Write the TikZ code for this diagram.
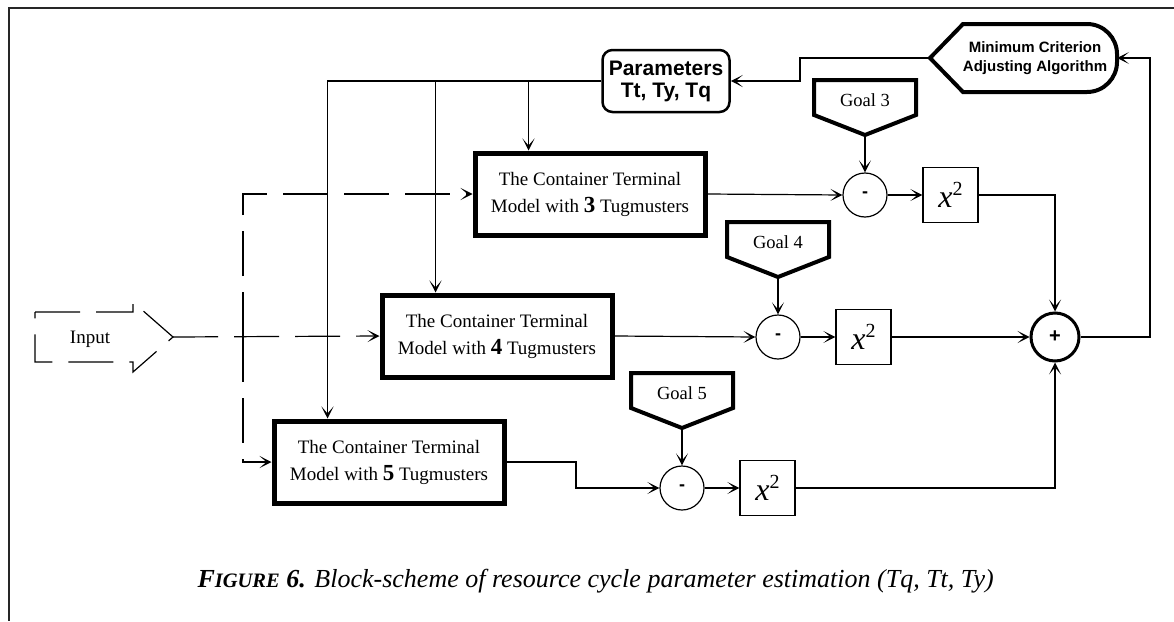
\documentclass[tikz,border=0pt]{standalone}
\usepackage{fontspec}
\setmainfont{Liberation Serif}
\setsansfont{Liberation Sans}
\usetikzlibrary{arrows.meta}
\begin{document}
\begin{tikzpicture}[x=1pt,y=-1pt,
  >={Stealth[length=12pt,width=12pt,inset=7pt]},
  conn/.style={line width=1.2pt},
  dconn/.style={line width=1.2pt, dash pattern=on 45pt off 16pt},
  model/.style={draw, line width=5pt, minimum width=230pt, minimum height=82pt,
    align=center, inner sep=0pt, font=\fontsize{19}{27}\selectfont},
  goalshape/.style={line width=4pt, line join=miter},
  goaltext/.style={font=\fontsize{18.5}{20}\selectfont},
  diff/.style={draw, circle, line width=1.2pt, minimum size=44pt, inner sep=0pt,
    font=\sffamily\bfseries\fontsize{18}{18}\selectfont},
  summ/.style={draw, circle, line width=3pt, minimum size=48pt, inner sep=0pt,
    font=\sffamily\bfseries\fontsize{20}{20}\selectfont},
  sqbox/.style={draw, line width=1.2pt, minimum size=55pt, inner sep=0pt,
    font=\fontsize{32}{32}\selectfont},
  parbox/.style={draw, line width=2.5pt, rounded corners=10pt, minimum width=127pt,
    minimum height=62pt, align=center, inner sep=0pt,
    font=\sffamily\bfseries\fontsize{21}{22}\selectfont},
  crittext/.style={align=center, font=\sffamily\bfseries\fontsize{15}{19}\selectfont}
]
\newcommand{\num}[1]{{\bfseries\fontsize{23}{23}\selectfont #1}}
\newcommand{\sq}{{\itshape x}\raisebox{12pt}{\fontsize{20}{20}\selectfont 2}}

\useasboundingbox (0,0) rectangle (1174,621);
\fill[white] (0,0) rectangle (1174,621);

% page frame
\draw[line width=2pt, black!85] (1174,8) -- (9,8) -- (9,621);

% model blocks
\node[model] (b1) at (590,194) {The Container Terminal\\Model with \num{3} Tugmusters};
\node[model] (b2) at (497,336) {The Container Terminal\\Model with \num{4} Tugmusters};
\node[model] (b3) at (389,462) {The Container Terminal\\Model with \num{5} Tugmusters};

% parameters and adjusting algorithm
\node[parbox] (par) at (666,81) {Parameters\\Tt, Ty, Tq};

\draw[line width=4pt, line join=miter]
  (930,58) -- (963,24) -- (1087,24) .. controls (1104,24) and (1117,38) .. (1117,54)
  -- (1117,62) .. controls (1117,78) and (1104,92) .. (1087,92) -- (963,92) -- cycle;
\node[crittext] (mc) at (1035,58) {Minimum Criterion\\Adjusting Algorithm};
\coordinate (mcw) at (930,58);
\coordinate (mce) at (1117,58);

% goals
\foreach \gx/\gt/\gn in {865/80/3, 778/222/4, 682/373/5}{
  \draw[goalshape] (\gx-51,\gt) -- (\gx+51,\gt) -- (\gx+51,\gt+35) -- (\gx,\gt+55)
    -- (\gx-51,\gt+35) -- cycle;
  \node[goaltext] (g\gn) at (\gx,\gt+20) {Goal \gn};
  \coordinate (g\gn tip) at (\gx,\gt+55);
}

% difference, square and sum
\node[diff] (m1) at (865,195) {-};
\node[diff] (m2) at (778,337) {-};
\node[diff] (m3) at (682,488) {-};
\node[sqbox] (s1) at (950.5,195) {\sq};
\node[sqbox] (s2) at (863.5,337) {\sq};
\node[sqbox] (s3) at (767.5,488) {\sq};
\node[summ] (sum) at (1055,337) {+};

% input
\draw[dconn] (35,312) -- (133,312) -- (133,302) -- (173,337) -- (133,372)
  -- (133,362) -- (35,362) -- cycle;
\node[font=\fontsize{19}{20}\selectfont] (in) at (90,339) {Input};
\coordinate (inp) at (173,337);
\coordinate (br) at (243,337);

\draw[dconn,->] (inp) -- (b2.west);
\draw[dconn,->] (br) |- (b1.west);
\draw[dconn,->] (br) |- (b3.west);

% parameter feed
\draw[conn,->] (par.west) -| ([xshift=56pt]b3.north west);
\draw[conn,->] (par.west -| b2.north west) ++(56,0) coordinate (p2) -- ([xshift=56pt]b2.north west);
\draw[conn,->] (par.west -| b1.north west) ++(56,0) coordinate (p1) -- ([xshift=56pt]b1.north west);

% model outputs
\draw[conn,->] (b1.east) -- (m1.west);
\draw[conn,->] (b2.east) -- (m2.west);
\draw[conn,->] (b3.east) -- (576,462) |- (m3.west);

% goals into differences
\draw[conn,->] (g3tip) -- (m1.north);
\draw[conn,->] (g4tip) -- (m2.north);
\draw[conn,->] (g5tip) -- (m3.north);

% squares
\draw[conn,->] (m1.east) -- (s1.west);
\draw[conn,->] (m2.east) -- (s2.west);
\draw[conn,->] (m3.east) -- (s3.west);

\draw[conn,->] (s1.east) -| (sum.north);
\draw[conn,->] (s2.east) -- (sum.west);
\draw[conn,->] (s3.east) -| (sum.south);

% feedback loop
\draw[conn,->] (sum.east) -- (1150,337) |- (mce);
\draw[conn,->] (mcw) -- (800,58) |- (par.east);

% caption
\node[anchor=west, font=\fontsize{26}{28}\selectfont\itshape] (cap) at (194,581)
  {{\bfseries F{\fontsize{20.5}{24}\selectfont IGURE} 6.} Block-scheme of resource cycle parameter estimation (Tq, Tt, Ty)};
\end{tikzpicture}
\end{document}
